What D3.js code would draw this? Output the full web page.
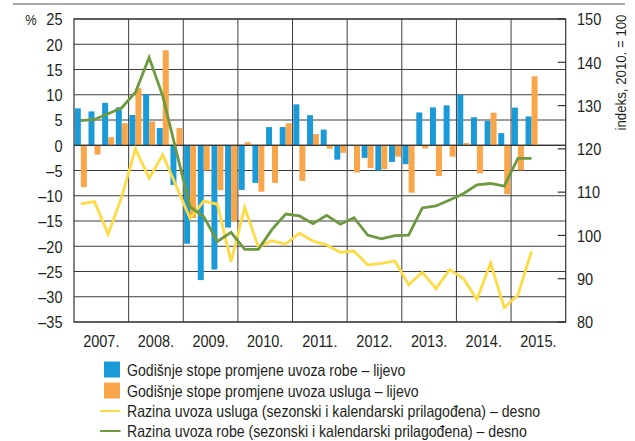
<!DOCTYPE html>
<html>
<head>
<meta charset="utf-8">
<script src="https://cdn.jsdelivr.net/npm/d3@7"></script>
<style>
  html, body { margin: 0; padding: 0; background: #fff; }
  svg text { font-family: "Liberation Sans", Arial, sans-serif; fill: #231f20; }
</style>
</head>
<body>
<svg id="chart" width="635" height="441"></svg>
<script>
// ---------- data ----------
const years = ["2007.", "2008.", "2009.", "2010.", "2011.", "2012.", "2013.", "2014.", "2015."];
const quarters = [
  "2007Q1","2007Q2","2007Q3","2007Q4","2008Q1","2008Q2","2008Q3","2008Q4",
  "2009Q1","2009Q2","2009Q3","2009Q4","2010Q1","2010Q2","2010Q3","2010Q4",
  "2011Q1","2011Q2","2011Q3","2011Q4","2012Q1","2012Q2","2012Q3","2012Q4",
  "2013Q1","2013Q2","2013Q3","2013Q4","2014Q1","2014Q2","2014Q3","2014Q4",
  "2015Q1","2015Q2"
];
// annual growth rates, % (left axis)
const goodsRate = [7.3, 6.7, 8.4, 7.5, 6.0, 10.1, 3.4, -7.85,
  -19.5, -26.7, -24.6, -16.3, -8.85, -7.45, 3.6, 3.6,
  8.1, 5.95, 3.1, -2.85, -0.1, -2.5, -5.0, -3.3,
  -3.75, 6.5, 7.5, 7.9, 10.0, 5.55, 4.8, 2.4,
  7.45, 5.7];
const servicesRate = [-8.3, -1.85, 1.6, 4.35, 11.3, 4.7, 18.8, 3.4,
  -14.4, -5.0, -8.9, -15.1, 0.6, -9.2, -7.45, 4.35,
  -7.05, 2.2, -0.7, -1.5, -5.4, -4.5, -4.7, -2.25,
  -9.4, -0.65, -6.1, -2.25, 0.45, -5.55, 6.45, -9.7,
  -4.95, 13.65];
// levels, index 2010 = 100 (right axis)
const servicesLevel = [107.3, 107.8, 100.3, 109.0, 120.0, 113.2, 118.6, 111.3,
  103.9, 107.95, 107.2, 93.95, 106.45, 97.3, 98.75, 98.0,
  100.5, 98.7, 97.8, 96.1, 96.4, 93.2, 93.55, 94.1,
  88.6, 91.5, 87.7, 92.1, 90.1, 85.2, 93.6, 83.3,
  86.25, 96.3];
const goodsLevel = [126.5, 126.8, 128.1, 129.5, 133.1, 141.1, 132.2, 119.3,
  106.6, 104.35, 98.6, 100.7, 96.8, 96.8, 101.4, 104.95,
  104.5, 102.7, 104.65, 102.6, 104.1, 100.1, 99.2, 99.95,
  100.05, 106.35, 106.8, 108.2, 109.65, 111.7, 112.0, 111.4,
  117.8, 117.8];
const leftTicks = [25, 20, 15, 10, 5, 0, -5, -10, -15, -20, -25, -30, -35];
const rightTicks = [150, 140, 130, 120, 110, 100, 90, 80];
const legendLabels = [
  "Godišnje stope promjene uvoza robe – lijevo",
  "Godišnje stope promjene uvoza usluga – lijevo",
  "Razina uvoza usluga (sezonski i kalendarski prilagođena) – desno",
  "Razina uvoza robe (sezonski i kalendarski prilagođena) – desno"
];
const leftUnit = "%";
const rightTitle = "indeks, 2010. = 100";

// ---------- layout ----------
const C = { blue: "#1a9bd7", orange: "#f9a54a", yellow: "#fedb44", green: "#6d9a3f", grid: "#3c3c3c" };
const M = { left: 74, right: 565.7, top: 19, bottom: 322 };
const FS = 16.5, FN = 17;
const svg = d3.select("#chart");

// horizontal condensing factor so the regular sans matches the condensed original
const probe = svg.append("text").attr("font-size", FS).text(legendLabels[3]);
const SX = 400 / probe.node().getComputedTextLength();
probe.remove();

// text helper: condensed text at (x,y)
function label(parent, x, y, txt, opts = {}) {
  const g = parent.append("g")
    .attr("transform", `translate(${x},${y})${opts.rotate ? ` rotate(${opts.rotate})` : ""} scale(${SX},1)`);
  return g.append("text").attr("font-size", opts.size || FS)
    .attr("text-anchor", opts.anchor || "start")
    .attr("dy", opts.dy || null).text(txt);
}

const allQuarters = [];
years.forEach((y, i) => { for (let q = 1; q <= 4; q++) allQuarters.push((2007 + i) + "Q" + q); });

const x = d3.scaleBand().domain(allQuarters).range([M.left, M.right]).padding(0);
const xYear = d3.scaleBand().domain(years).range([M.left, M.right]).padding(0);
const xSub = d3.scaleBand().domain(["goods", "services"]).range([0, x.bandwidth()]).paddingInner(0).paddingOuter(0.14);
const yL = d3.scaleLinear().domain([-35, 25]).range([M.bottom, M.top]);
const yR = d3.scaleLinear().domain([80, 150]).range([M.bottom, M.top]);

// top rule
svg.append("line").attr("x1", 13).attr("x2", 625).attr("y1", 4).attr("y2", 4)
  .attr("stroke", "#8c8c8c").attr("stroke-width", 1.5);

// horizontal grid
svg.append("g").selectAll("line").data(leftTicks).join("line")
  .attr("x1", M.left).attr("x2", M.right)
  .attr("y1", d => yL(d)).attr("y2", d => yL(d))
  .attr("stroke", C.grid).attr("stroke-width", 1);

// vertical grid (year boundaries)
svg.append("g").selectAll("line").data(years.slice(1)).join("line")
  .attr("x1", d => xYear(d)).attr("x2", d => xYear(d))
  .attr("y1", M.top).attr("y2", M.bottom)
  .attr("stroke", C.grid).attr("stroke-width", 1);

// bars
const bars = svg.append("g");
quarters.forEach((q, i) => {
  const g = bars.append("g").attr("transform", `translate(${x(q)},0)`);
  [["goods", goodsRate[i], C.blue], ["services", servicesRate[i], C.orange]].forEach(([k, v, col]) => {
    g.append("rect")
      .attr("x", xSub(k)).attr("width", xSub.bandwidth())
      .attr("y", yL(Math.max(0, v))).attr("height", Math.abs(yL(v) - yL(0)))
      .attr("fill", col);
  });
});

// zero line redrawn over bars
svg.append("line").attr("x1", M.left).attr("x2", M.right)
  .attr("y1", yL(0)).attr("y2", yL(0)).attr("stroke", "#222").attr("stroke-width", 1);

// lines
const cx = q => x(q) + x.bandwidth() / 2;
const lineGen = arr => d3.line().x((d, i) => cx(quarters[i])).y(d => yR(d))(arr);
svg.append("path").attr("d", lineGen(servicesLevel)).attr("fill", "none")
  .attr("stroke", C.yellow).attr("stroke-width", 2.8).attr("stroke-linejoin", "miter");
svg.append("path").attr("d", lineGen(goodsLevel)).attr("fill", "none")
  .attr("stroke", C.green).attr("stroke-width", 2.8).attr("stroke-linejoin", "miter");

// frame
svg.append("rect").attr("x", M.left).attr("y", M.top)
  .attr("width", M.right - M.left).attr("height", M.bottom - M.top)
  .attr("fill", "none").attr("stroke", "#333").attr("stroke-width", 1.2);

// left axis labels
const fmt = d => (d < 0 ? "\u2013" + Math.abs(d) : String(d));
const gl = svg.append("g");
leftTicks.forEach(d => label(gl, 62.5, yL(d), fmt(d), { anchor: "end", dy: "0.37em", size: FN }));
label(svg, 31, yL(25), leftUnit, { anchor: "middle", dy: "0.37em", size: 15 });

// right axis ticks and labels
svg.append("g").selectAll("line").data(rightTicks).join("line")
  .attr("x1", M.right - 8).attr("x2", M.right)
  .attr("y1", d => yR(d)).attr("y2", d => yR(d))
  .attr("stroke", "#333").attr("stroke-width", 1.2);
const gr = svg.append("g");
rightTicks.forEach(d => label(gr, 577, yR(d), String(d), { dy: "0.37em", size: FN }));
label(svg, 626, 72.5, rightTitle, { anchor: "middle", rotate: -90, size: 15.5 });

// year labels
const gy = svg.append("g");
years.forEach(d => label(gy, xYear(d) + xYear.bandwidth() / 2, 347, d, { anchor: "middle", size: FN }));

// legend
const leg = svg.append("g");
const rowBase = [376, 397, 417, 437];
legendLabels.forEach((lab, i) => {
  const mid = rowBase[i] - 6;
  if (i < 2) {
    leg.append("rect").attr("x", 104).attr("y", mid - 8.5).attr("width", 16).attr("height", 16)
      .attr("fill", i === 0 ? C.blue : C.orange);
  } else {
    leg.append("line").attr("x1", 100).attr("x2", 120.5).attr("y1", mid).attr("y2", mid)
      .attr("stroke", i === 2 ? C.yellow : C.green).attr("stroke-width", 2);
  }
  label(leg, 127, rowBase[i], lab);
});
</script>
</body>
</html>
